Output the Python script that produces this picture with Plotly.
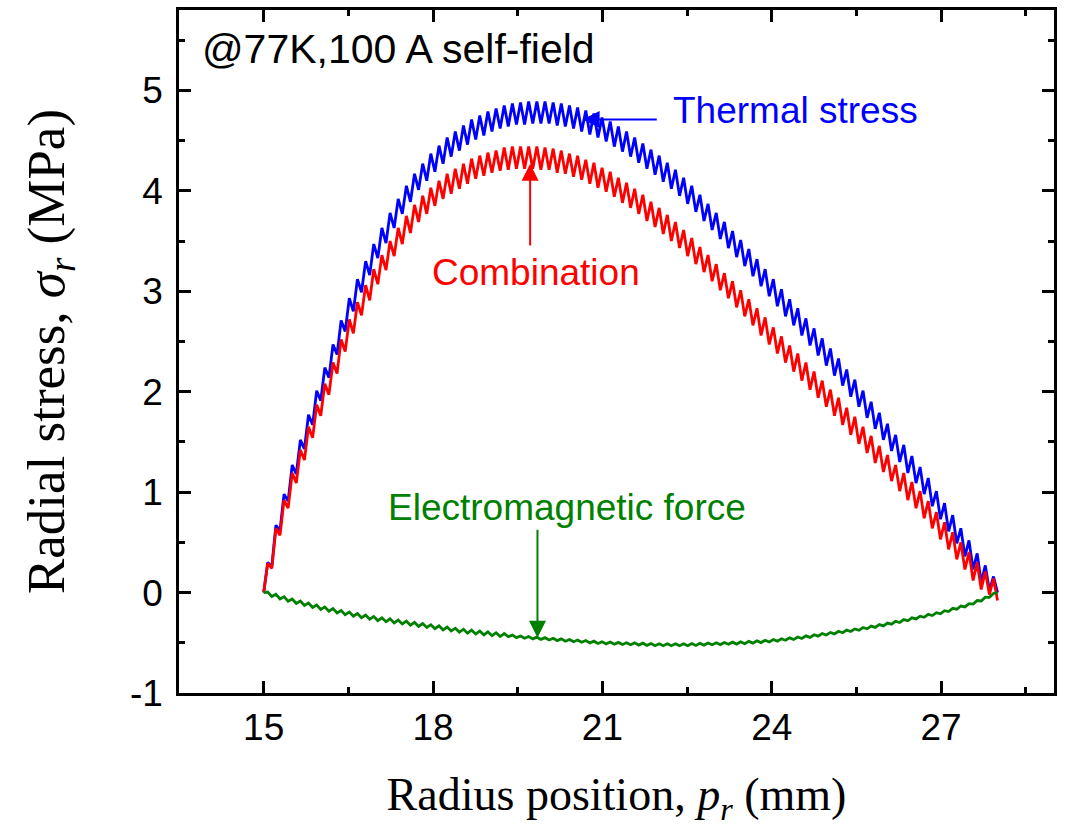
import plotly.graph_objects as go

# Radius positions (mm)
radius_mm = [
    15.000, 15.072, 15.144, 15.217, 15.289, 15.361, 15.433, 15.506, 15.578, 15.650,
    15.722, 15.794, 15.867, 15.939, 16.011, 16.083, 16.156, 16.228, 16.300, 16.372,
    16.444, 16.517, 16.589, 16.661, 16.733, 16.806, 16.878, 16.950, 17.022, 17.094,
    17.167, 17.239, 17.311, 17.383, 17.456, 17.528, 17.600, 17.672, 17.744, 17.817,
    17.889, 17.961, 18.033, 18.106, 18.178, 18.250, 18.322, 18.394, 18.467, 18.539,
    18.611, 18.683, 18.756, 18.828, 18.900, 18.972, 19.044, 19.117, 19.189, 19.261,
    19.333, 19.406, 19.478, 19.550, 19.622, 19.694, 19.767, 19.839, 19.911, 19.983,
    20.056, 20.128, 20.200, 20.272, 20.344, 20.417, 20.489, 20.561, 20.633, 20.706,
    20.778, 20.850, 20.922, 20.994, 21.067, 21.139, 21.211, 21.283, 21.356, 21.428,
    21.500, 21.572, 21.644, 21.717, 21.789, 21.861, 21.933, 22.006, 22.078, 22.150,
    22.222, 22.294, 22.367, 22.439, 22.511, 22.583, 22.656, 22.728, 22.800, 22.872,
    22.944, 23.017, 23.089, 23.161, 23.233, 23.306, 23.378, 23.450, 23.522, 23.594,
    23.667, 23.739, 23.811, 23.883, 23.956, 24.028, 24.100, 24.172, 24.244, 24.317,
    24.389, 24.461, 24.533, 24.606, 24.678, 24.750, 24.822, 24.894, 24.967, 25.039,
    25.111, 25.183, 25.256, 25.328, 25.400, 25.472, 25.544, 25.617, 25.689, 25.761,
    25.833, 25.906, 25.978, 26.050, 26.122, 26.194, 26.267, 26.339, 26.411, 26.483,
    26.556, 26.628, 26.700, 26.772, 26.844, 26.917, 26.989, 27.061, 27.133, 27.206,
    27.278, 27.350, 27.422, 27.494, 27.567, 27.639, 27.711, 27.783, 27.856, 27.928,
    28.000,
]

# Thermal stress (MPa)
thermal_stress = [
    0.00, 0.30, 0.26, 0.67, 0.62, 0.98, 0.91, 1.27, 1.18, 1.52,
    1.43, 1.77, 1.67, 2.01, 1.91, 2.24, 2.14, 2.47, 2.37, 2.71,
    2.60, 2.93, 2.80, 3.12, 2.99, 3.30, 3.16, 3.47, 3.33, 3.63,
    3.48, 3.78, 3.63, 3.92, 3.77, 4.05, 3.89, 4.17, 4.01, 4.27,
    4.10, 4.37, 4.19, 4.45, 4.27, 4.53, 4.34, 4.59, 4.40, 4.65,
    4.46, 4.71, 4.51, 4.75, 4.55, 4.79, 4.59, 4.82, 4.62, 4.85,
    4.64, 4.87, 4.66, 4.88, 4.66, 4.89, 4.67, 4.89, 4.67, 4.89,
    4.67, 4.88, 4.65, 4.87, 4.64, 4.85, 4.62, 4.83, 4.59, 4.80,
    4.56, 4.77, 4.53, 4.73, 4.49, 4.69, 4.44, 4.64, 4.39, 4.59,
    4.34, 4.53, 4.28, 4.47, 4.22, 4.41, 4.16, 4.35, 4.09, 4.28,
    4.02, 4.21, 3.95, 4.13, 3.87, 4.05, 3.79, 3.96, 3.70, 3.87,
    3.61, 3.78, 3.52, 3.69, 3.43, 3.60, 3.34, 3.51, 3.25, 3.42,
    3.15, 3.32, 3.05, 3.22, 2.95, 3.12, 2.85, 3.02, 2.75, 2.92,
    2.66, 2.83, 2.56, 2.73, 2.46, 2.63, 2.36, 2.53, 2.26, 2.43,
    2.16, 2.33, 2.06, 2.22, 1.95, 2.12, 1.85, 2.01, 1.74, 1.90,
    1.63, 1.79, 1.52, 1.68, 1.41, 1.57, 1.30, 1.47, 1.19, 1.36,
    1.09, 1.25, 0.98, 1.14, 0.86, 1.01, 0.73, 0.89, 0.61, 0.77,
    0.49, 0.64, 0.36, 0.52, 0.23, 0.39, 0.10, 0.27, 0.02, 0.16,
    0.00,
]

# Combination (MPa)
combination_stress = [
    0.00, 0.29, 0.24, 0.64, 0.57, 0.92, 0.84, 1.19, 1.09, 1.42,
    1.32, 1.65, 1.54, 1.87, 1.76, 2.08, 1.97, 2.29, 2.18, 2.52,
    2.40, 2.72, 2.58, 2.89, 2.76, 3.06, 2.91, 3.22, 3.07, 3.36,
    3.21, 3.50, 3.35, 3.63, 3.47, 3.75, 3.58, 3.86, 3.69, 3.95,
    3.77, 4.03, 3.85, 4.10, 3.92, 4.17, 3.97, 4.22, 4.02, 4.27,
    4.07, 4.32, 4.12, 4.35, 4.15, 4.38, 4.18, 4.40, 4.20, 4.43,
    4.21, 4.44, 4.22, 4.44, 4.22, 4.44, 4.22, 4.44, 4.21, 4.43,
    4.21, 4.42, 4.18, 4.40, 4.17, 4.37, 4.14, 4.35, 4.11, 4.31,
    4.07, 4.28, 4.03, 4.23, 3.99, 4.19, 3.94, 4.13, 3.88, 4.08,
    3.83, 4.02, 3.77, 3.96, 3.70, 3.89, 3.64, 3.83, 3.57, 3.76,
    3.50, 3.69, 3.43, 3.61, 3.35, 3.53, 3.27, 3.44, 3.19, 3.36,
    3.10, 3.27, 3.01, 3.18, 2.93, 3.10, 2.84, 3.01, 2.75, 2.92,
    2.66, 2.83, 2.56, 2.74, 2.47, 2.64, 2.38, 2.55, 2.29, 2.46,
    2.20, 2.38, 2.11, 2.29, 2.02, 2.20, 1.94, 2.11, 1.85, 2.02,
    1.76, 1.94, 1.67, 1.84, 1.57, 1.75, 1.48, 1.65, 1.39, 1.56,
    1.29, 1.46, 1.20, 1.37, 1.11, 1.27, 1.01, 1.19, 0.92, 1.10,
    0.84, 1.01, 0.74, 0.91, 0.64, 0.80, 0.53, 0.70, 0.43, 0.60,
    0.33, 0.50, 0.23, 0.40, 0.12, 0.30, 0.03, 0.21, -0.02, 0.14,
    -0.08,
]

# Electromagnetic force (MPa)
em_force_stress = [
    0.000, 0.005, -0.040, -0.018, -0.063, -0.041, -0.086, -0.064, -0.108, -0.084,
    -0.128, -0.104, -0.148, -0.124, -0.168, -0.143, -0.186, -0.160, -0.203, -0.178,
    -0.220, -0.195, -0.236, -0.209, -0.250, -0.224, -0.265, -0.238, -0.279, -0.251,
    -0.290, -0.262, -0.302, -0.274, -0.313, -0.285, -0.325, -0.297, -0.337, -0.308,
    -0.348, -0.320, -0.360, -0.331, -0.371, -0.343, -0.383, -0.355, -0.394, -0.365,
    -0.404, -0.374, -0.412, -0.383, -0.421, -0.391, -0.430, -0.400, -0.438, -0.408,
    -0.440, -0.424, -0.449, -0.432, -0.455, -0.438, -0.461, -0.444, -0.466, -0.449,
    -0.472, -0.455, -0.478, -0.461, -0.484, -0.467, -0.490, -0.472, -0.495, -0.478,
    -0.501, -0.484, -0.507, -0.490, -0.511, -0.493, -0.514, -0.496, -0.517, -0.499,
    -0.520, -0.501, -0.523, -0.504, -0.526, -0.507, -0.529, -0.510, -0.530, -0.510,
    -0.530, -0.510, -0.530, -0.510, -0.530, -0.508, -0.527, -0.506, -0.523, -0.502,
    -0.520, -0.500, -0.518, -0.497, -0.515, -0.494, -0.513, -0.491, -0.509, -0.486,
    -0.503, -0.481, -0.498, -0.475, -0.492, -0.468, -0.484, -0.460, -0.475, -0.451,
    -0.467, -0.442, -0.457, -0.431, -0.446, -0.420, -0.434, -0.409, -0.423, -0.397,
    -0.411, -0.385, -0.400, -0.374, -0.388, -0.362, -0.376, -0.348, -0.361, -0.334,
    -0.347, -0.319, -0.332, -0.304, -0.315, -0.287, -0.298, -0.269, -0.281, -0.252,
    -0.263, -0.235, -0.246, -0.217, -0.229, -0.200, -0.211, -0.180, -0.189, -0.157,
    -0.166, -0.134, -0.143, -0.111, -0.115, -0.079, -0.084, -0.047, -0.048, -0.009,
    0.000,
]

x_tickvals = [15, 18, 21, 24, 27]
y_tickvals = [-1, 0, 1, 2, 3, 4, 5]

SANS = "Liberation Sans, Arial, sans-serif"
SERIF = "Liberation Serif, Times New Roman, serif"

fig = go.Figure()
fig.add_trace(go.Scatter(x=radius_mm, y=thermal_stress, mode="lines",
                         line=dict(color="rgb(0,0,255)", width=2.8), name="Thermal stress"))
fig.add_trace(go.Scatter(x=radius_mm, y=combination_stress, mode="lines",
                         line=dict(color="rgb(255,0,0)", width=2.8), name="Combination"))
fig.add_trace(go.Scatter(x=radius_mm, y=em_force_stress, mode="lines",
                         line=dict(color="rgb(0,128,0)", width=2.8), name="Electromagnetic force"))

axis_common = dict(
    showline=True, linecolor="black", linewidth=2.5, mirror="allticks",
    ticks="inside", ticklen=12, tickwidth=2.5, tickcolor="black",
    showgrid=False, zeroline=False,
    tickfont=dict(family=SANS, size=37, color="black"),
)

fig.update_xaxes(
    **axis_common,
    range=[13.5, 29.0], tickvals=x_tickvals, ticktext=[str(v) for v in x_tickvals],
    minor=dict(ticks="inside", ticklen=6, tickwidth=2.5, tickcolor="black", dtick=1.5, tick0=15),
    ticklabelstandoff=0,
    title=dict(text="Radius position, <i>p</i><sub><i>r</i></sub> (mm)",
               font=dict(family=SERIF, size=46, color="black"), standoff=31),
)
fig.update_yaxes(
    **axis_common,
    range=[-1.0, 5.8], tickvals=y_tickvals, ticktext=[str(v) for v in y_tickvals],
    minor=dict(ticks="inside", ticklen=6, tickwidth=2.5, tickcolor="black", dtick=0.5, tick0=0),
    ticklabelstandoff=6,
    title=dict(text="Radial stress, <i>σ</i><sub><i>r</i></sub> (MPa)",
               font=dict(family=SERIF, size=53, color="black"), standoff=49),
)

arrow_common = dict(xref="x", yref="y", axref="x", ayref="y", text="", showarrow=True,
                    arrowhead=2, arrowsize=1.7, arrowwidth=2.0)
annotations = [
    dict(x=20.65, y=4.71, ax=21.99, ay=4.71, arrowcolor="rgb(0,0,255)", **arrow_common),
    dict(x=19.72, y=4.27, ax=19.72, ay=3.44, arrowcolor="rgb(255,0,0)", **arrow_common),
    dict(x=19.85, y=-0.45, ax=19.85, ay=0.64, arrowcolor="rgb(0,128,0)", **arrow_common),
    dict(x=22.22, y=4.80, xref="x", yref="y", xanchor="left", yanchor="middle",
         text="Thermal stress", showarrow=False,
         font=dict(family=SANS, size=37, color="rgb(0,0,255)")),
    dict(x=19.82, y=3.19, xref="x", yref="y", xanchor="center", yanchor="middle",
         text="Combination", showarrow=False,
         font=dict(family=SANS, size=37, color="rgb(255,0,0)")),
    dict(x=20.38, y=0.85, xref="x", yref="y", xanchor="center", yanchor="middle",
         text="Electromagnetic force", showarrow=False,
         font=dict(family=SANS, size=37, color="rgb(0,128,0)")),
    dict(x=13.87, y=5.41, xref="x", yref="y", xanchor="left", yanchor="middle",
         text="@77K,100 A self-field", showarrow=False,
         font=dict(family=SANS, size=41, color="black")),
]

fig.update_layout(
    width=1069, height=829,
    margin=dict(l=179, r=15, t=7, b=136),
    paper_bgcolor="white", plot_bgcolor="white",
    showlegend=False,
    annotations=annotations,
)

fig.write_html("out.html")
